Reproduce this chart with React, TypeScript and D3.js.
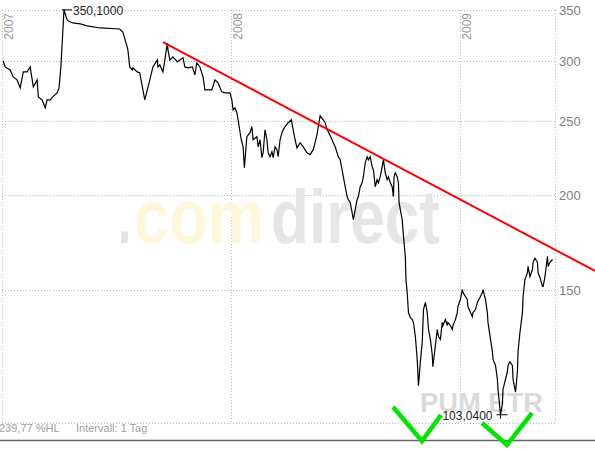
import React from "react";
import * as d3 from "d3";

// ---- data (days since 2007-01-01, price) ----
const START_UTC = Date.UTC(2007, 0, 1);
const END_DAY = 883;
const series: [number, number][] = [
  [2,300.1],[5,294.7],[13,292.0],[18,285.9],[24,283.4],[29,276.6],[34,290.3],[40,290.3],[45,294.7],[50,277.4],[56,283.4],[58,269.2],[64,266.8],[69,260.5],[72,266.8],[77,266.8],[81,269.2],[88,272.5],[91,276.6],[94,294.7],[97,326.5],[99,350.1],[104,339.6],[109,337.6],[113,336.6],[125,335.6],[136,333.6],[157,331.5],[188,330.5],[193,327.5],[200,312.9],[201,310.2],[204,294.7],[208,292.0],[209,293.8],[216,290.3],[220,289.4],[225,275.0],[228,266.8],[232,275.0],[236,283.4],[241,294.7],[248,301.0],[249,294.7],[252,296.5],[257,290.3],[260,301.0],[264,316.8],[265,310.2],[268,301.0],[273,303.8],[280,299.2],[284,301.0],[289,302.9],[292,294.7],[297,293.8],[304,294.7],[308,287.7],[311,298.3],[316,294.7],[321,285.9],[324,275.0],[329,275.0],[335,275.0],[340,283.4],[345,280.8],[351,273.3],[356,272.5],[364,272.5],[367,266.8],[369,258.9],[372,260.5],[375,256.6],[377,251.2],[382,236.5],[385,231.5],[387,217.3],[391,238.7],[396,241.6],[399,246.0],[401,236.5],[407,238.7],[409,231.5],[412,236.5],[415,224.0],[417,227.4],[420,243.7],[423,236.5],[425,227.4],[428,224.7],[431,228.1],[433,224.0],[436,231.5],[439,229.5],[441,224.7],[444,236.5],[447,241.6],[449,243.7],[452,246.0],[457,249.0],[462,251.2],[465,243.7],[468,236.5],[471,230.8],[476,234.4],[481,231.5],[487,227.4],[492,226.1],[497,229.5],[503,240.1],[505,246.0],[508,254.3],[513,251.2],[516,249.0],[519,243.7],[521,242.3],[527,236.5],[529,234.4],[532,231.5],[535,227.4],[537,224.7],[540,222.6],[543,216.0],[545,211.5],[548,205.2],[551,199.2],[553,197.3],[556,195.6],[559,189.8],[561,185.8],[564,191.5],[567,197.3],[569,199.2],[572,205.2],[575,207.7],[577,211.5],[580,220.6],[583,224.7],[585,222.6],[588,224.7],[591,218.0],[593,216.0],[596,205.2],[599,209.6],[601,207.7],[604,211.5],[607,218.0],[609,222.6],[612,214.0],[615,209.6],[617,211.5],[620,207.7],[623,205.2],[625,199.2],[626,211.5],[628,214.0],[631,211.5],[633,207.7],[634,195.6],[636,191.5],[639,185.8],[641,176.9],[644,166.3],[645,155.0],[647,149.1],[649,140.3],[652,138.2],[655,137.4],[657,136.2],[660,130.5],[663,121.8],[665,112.5],[668,120.9],[671,128.2],[673,141.6],[676,144.7],[679,140.3],[681,133.3],[684,129.4],[687,123.5],[688,119.1],[692,127.0],[695,133.3],[697,130.5],[700,129.4],[703,136.2],[704,134.9],[708,137.4],[711,134.9],[712,136.2],[716,134.9],[719,133.3],[720,134.9],[724,137.4],[727,140.3],[728,142.9],[732,146.0],[735,150.4],[736,149.1],[740,147.3],[743,146.0],[744,142.9],[748,140.3],[751,138.6],[752,140.3],[756,141.6],[759,144.7],[764,147.3],[767,149.1],[768,150.4],[772,146.0],[775,140.3],[776,136.2],[780,129.4],[783,124.8],[784,121.8],[788,119.6],[791,114.7],[792,111.3],[796,103.04],[799,106.5],[800,111.3],[804,114.7],[807,117.4],[808,119.6],[811,120.9],[815,119.6],[816,114.7],[820,110.3],[823,117.4],[824,124.8],[827,132.0],[831,140.3],[832,147.3],[835,155.0],[839,158.3],[840,161.3],[843,156.4],[847,159.8],[848,163.3],[851,165.3],[855,163.3],[856,158.3],[859,155.9],[863,151.8],[864,151.8],[867,156.4],[871,166.3],[872,161.3],[875,163.3],[879,164.7],
];
const yTicks = [150, 200, 250, 300, 350];
const yearTicks = ["2007", "2008", "2009"];
const trendAnchors: [number, number][] = [[257, 317.7], [947, 159.1]];
const footerText = "239,77 %HL";
const intervalText = "Intervall: 1 Tag";
const symbolText = "PUM ETR";
const watermarkParts = [".", "com", "direct"];

const W = 595, H = 452;
const L = 2, R = 555, T = 10, B = 423;

const toDate = (day: number) => new Date(START_UTC + day * 864e5);

export default function App() {
  const x = d3.scaleUtc().domain([toDate(0), toDate(END_DAY)]).range([L, R]);
  const y = d3.scaleLog().domain([100.5, 350]).range([B, T]);

  const line = d3.line<[number, number]>()
    .x((d) => x(toDate(d[0])))
    .y((d) => y(d[1]));

  const maxPt = series.reduce((a, b) => (b[1] > a[1] ? b : a));
  const minPt = series.reduce((a, b) => (b[1] < a[1] ? b : a));
  const mx = x(toDate(maxPt[0])), my = y(maxPt[1]);
  const nx = x(toDate(minPt[0])), ny = y(minPt[1]);
  const fmt = (v: number) => v.toFixed(4).replace(".", ",");

  const checks = [
    [[393, 407], [422, 441], [441, 415]],
    [[482, 423], [507, 445], [532, 413]],
  ];

  const wmStyle = [
    { x: 118, len: 13, fill: "#e2e2e2" },
    { x: 134, len: 130, fill: "#fdf8dc" },
    { x: 271, len: 169, fill: "#e6e6e6" },
  ];

  const font = "Arial, 'Liberation Sans', Helvetica, sans-serif";

  return (
    <svg
      width={W}
      height={H}
      style={{ position: "absolute", left: 0, top: 0, background: "#fff" }}
      fontFamily={font}
    >
      <rect x={0} y={0} width={W} height={H} fill="#fff" />
      {/* horizontal grid */}
      {yTicks.map((t) => (
        <line key={"h" + t} x1={L} x2={R} y1={Math.round(y(t)) + 0.5} y2={Math.round(y(t)) + 0.5}
          stroke="#b8b8b8" strokeDasharray="1,2" />
      ))}
      <line x1={L} x2={R} y1={B + 0.5} y2={B + 0.5} stroke="#b8b8b8" strokeDasharray="1,2" />
      {/* vertical grid */}
      {yearTicks.map((yr) => {
        const xx = Math.round(x(new Date(Date.UTC(+yr, 0, 1)))) + 0.5;
        return (
          <g key={yr}>
            <line x1={xx} x2={xx} y1={T} y2={B} stroke="#b8b8b8" strokeDasharray="1,2" />
            <text transform={`translate(${xx + 10},${T + 3}) rotate(-90)`} textAnchor="end"
              fontSize={12} fill="#999">{yr}</text>
          </g>
        );
      })}
      <line x1={R + 0.5} x2={R + 0.5} y1={T} y2={B} stroke="#b8b8b8" strokeDasharray="1,2" />
      {/* right axis labels */}
      {yTicks.map((t) => (
        <text key={"l" + t} x={R + 4} y={y(t) + 5} fontSize={13} fill="#808080">{t}</text>
      ))}
      {/* watermark */}
      {watermarkParts.map((p, i) => (
        <text key={"wm" + i} x={wmStyle[i].x} y={243} fontSize={76} fontWeight="bold"
          textLength={wmStyle[i].len} lengthAdjust="spacingAndGlyphs" fill={wmStyle[i].fill}>{p}</text>
      ))}
      <text x={420} y={412} fontSize={27} fontWeight="bold" fill="#dadada" textLength={123}
        lengthAdjust="spacingAndGlyphs">{symbolText}</text>
      {/* price line */}
      <path d={line(series) || ""} fill="none" stroke="#000" strokeWidth={1.2} strokeLinejoin="miter" />
      {/* trend line */}
      <line x1={x(toDate(trendAnchors[0][0]))} y1={y(trendAnchors[0][1])}
        x2={x(toDate(trendAnchors[1][0]))} y2={y(trendAnchors[1][1])}
        stroke="#ff0000" strokeWidth={2} />
      {/* max annotation */}
      <line x1={mx - 2} x2={mx + 8} y1={my} y2={my} stroke="#000" strokeWidth={1} />
      <text x={mx + 9} y={my + 5} fontSize={12} fill="#222">{fmt(maxPt[1])}</text>
      {/* min annotation */}
      <line x1={nx - 4} x2={nx + 7} y1={ny} y2={ny} stroke="#000" strokeWidth={1} />
      <line x1={nx} x2={nx} y1={ny - 4} y2={ny + 4} stroke="#000" strokeWidth={1} />
      <text x={nx - 8} y={ny + 5} fontSize={12} fill="#222" textAnchor="end">{fmt(minPt[1])}</text>
      {/* footer */}
      <text x={-1} y={432} fontSize={11} fill="#a0a0a0">{footerText}</text>
      <text x={76} y={432} fontSize={11} fill="#a0a0a0">{intervalText}</text>
      <line x1={0} x2={W} y1={440.5} y2={440.5} stroke="#666" strokeWidth={1.5} />
      {/* green check marks */}
      {checks.map((c, i) => (
        <polyline key={i} points={c.map((p) => p.join(",")).join(" ")} fill="none"
          stroke="#00e600" strokeWidth={4.5} strokeLinejoin="miter" />
      ))}
    </svg>
  );
}
